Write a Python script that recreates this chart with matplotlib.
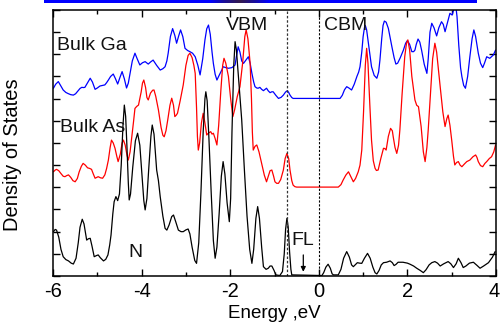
import numpy as np
import matplotlib
matplotlib.use("Agg")
import matplotlib.pyplot as plt
from matplotlib.transforms import ScaledTranslation

plt.rcParams['font.family'] = ['Liberation Sans', 'DejaVu Sans']

# ---- data (energy in eV, DOS in arbitrary units, curves already offset) ----
n_energy = [-5.99, -5.95, -5.92, -5.87, -5.82, -5.77, -5.71, -5.65, -5.59, -5.54,
            -5.48, -5.43, -5.39, -5.34, -5.30, -5.26, -5.24, -5.20, -5.16, -5.12,
            -5.07, -5.02, -4.98, -4.93, -4.86, -4.81, -4.76, -4.72, -4.69, -4.65,
            -4.62, -4.58, -4.54, -4.50, -4.46, -4.42, -4.39, -4.36, -4.33, -4.30,
            -4.28, -4.25, -4.20, -4.14, -4.09, -4.04, -3.99, -3.95, -3.92, -3.88,
            -3.84, -3.79, -3.76, -3.72, -3.68, -3.66, -3.62, -3.58, -3.52, -3.47,
            -3.43, -3.38, -3.32, -3.28, -3.23, -3.17, -3.11, -3.06, -3.00, -2.95,
            -2.91, -2.86, -2.80, -2.76, -2.71, -2.66, -2.61, -2.57, -2.55, -2.52,
            -2.48, -2.43, -2.38, -2.34, -2.30, -2.25, -2.20, -2.16, -2.12, -2.07,
            -2.02, -1.99, -1.96, -1.92, -1.89, -1.86, -1.80, -1.74, -1.68, -1.62,
            -1.56, -1.51, -1.47, -1.42, -1.38, -1.34, -1.29, -1.25, -1.19, -1.14,
            -1.10, -1.06, -1.01, -0.97, -0.88, -0.82, -0.78, -0.75, -0.72, -0.69,
            -0.66, -0.63, -0.61, 0.07, 0.11, 0.16, 0.21, 0.26, 0.30, 0.33,
            0.44, 0.50, 0.56, 0.63, 0.69, 0.74, 0.78, 0.82, 0.87, 0.92,
            0.97, 1.03, 1.10, 1.16, 1.22, 1.27, 1.31, 1.36, 1.41, 1.46,
            1.53, 1.61, 1.66, 1.70, 1.74, 1.79, 1.90, 2.00, 2.06, 2.14,
            2.21, 2.29, 2.36, 2.42, 2.49, 2.55, 2.62, 2.68, 2.74, 2.82,
            2.92, 2.98, 3.04, 3.10, 3.15, 3.21, 3.26, 3.32, 3.40, 3.49,
            3.57, 3.64, 3.72, 3.83, 3.92, 3.98]
n_dos = [2.00, 2.10, 2.07, 1.75, 1.20, 0.87, 0.74, 0.68, 0.58, 0.54,
         0.80, 1.50, 2.20, 2.56, 2.35, 1.85, 1.62, 1.68, 1.70, 1.35,
         0.87, 0.92, 0.95, 0.82, 0.68, 0.75, 0.95, 1.40, 1.85, 2.80,
         3.35, 3.58, 3.40, 3.70, 5.00, 6.80, 7.71, 7.20, 5.80, 4.20,
         3.43, 3.70, 4.90, 6.10, 6.44, 5.90, 4.50, 3.40, 2.98, 3.50,
         4.80, 6.30, 6.81, 6.40, 5.30, 4.78, 4.30, 3.58, 2.70, 2.15,
         2.07, 2.30, 2.68, 2.75, 2.45, 2.07, 2.00, 2.00, 2.08, 2.12,
         1.90, 1.30, 0.70, 0.57, 1.50, 3.80, 6.50, 8.00, 8.31, 7.90,
         6.20, 3.80, 1.60, 0.80, 1.30, 2.80, 4.50, 5.16, 4.60, 3.30,
         2.45, 3.50, 6.50, 9.50, 10.57, 10.20, 8.60, 7.04, 4.80, 2.70,
         1.20, 0.57, 1.20, 2.60, 3.13, 2.60, 1.30, 0.42, 0.30, 0.35,
         0.45, 0.45, 0.25, 0.05, 0.02, 0.20, 1.00, 2.10, 2.60, 2.20,
         1.10, 0.30, 0.05, 0.02, 0.15, 0.40, 0.53, 0.35, 0.10, 0.05,
         0.05, 0.30, 0.80, 1.10, 0.85, 0.50, 0.42, 0.50, 0.60, 0.58,
         0.57, 0.80, 1.02, 0.80, 0.40, 0.15, 0.09, 0.25, 0.50, 0.60,
         0.62, 0.68, 0.60, 0.47, 0.52, 0.62, 0.62, 0.58, 0.53, 0.45,
         0.35, 0.25, 0.15, 0.28, 0.50, 0.60, 0.65, 0.58, 0.45, 0.55,
         0.65, 0.55, 0.38, 0.55, 0.80, 0.60, 0.38, 0.45, 0.58, 0.62,
         0.48, 0.35, 0.45, 0.60, 0.85, 1.10]

as_energy = [-5.99, -5.95, -5.92, -5.87, -5.82, -5.77, -5.73, -5.69, -5.65, -5.60,
             -5.55, -5.50, -5.45, -5.41, -5.36, -5.32, -5.27, -5.22, -5.17, -5.13,
             -5.09, -5.05, -5.01, -4.98, -4.93, -4.88, -4.83, -4.79, -4.75, -4.71,
             -4.68, -4.64, -4.60, -4.56, -4.53, -4.48, -4.44, -4.41, -4.37, -4.33,
             -4.30, -4.26, -4.22, -4.18, -4.15, -4.11, -4.07, -4.01, -3.98, -3.95,
             -3.91, -3.88, -3.85, -3.80, -3.75, -3.72, -3.68, -3.62, -3.56, -3.52,
             -3.49, -3.45, -3.41, -3.36, -3.32, -3.28, -3.25, -3.22, -3.19, -3.13,
             -3.06, -3.00, -2.95, -2.91, -2.86, -2.82, -2.79, -2.76, -2.74, -2.72,
             -2.69, -2.65, -2.61, -2.57, -2.53, -2.49, -2.44, -2.41, -2.38, -2.34,
             -2.30, -2.26, -2.21, -2.17, -2.14, -2.10, -2.04, -1.99, -1.94, -1.90,
             -1.84, -1.78, -1.72, -1.67, -1.64, -1.60, -1.55, -1.52, -1.50, -1.48,
             -1.44, -1.40, -1.35, -1.29, -1.23, -1.18, -1.14, -1.10, -1.06, -1.02,
             -0.99, -0.95, -0.91, -0.86, -0.80, -0.76, -0.72, -0.68, -0.65, -0.61,
             -0.58, -0.54, -0.50, 0.44, 0.50, 0.55, 0.61, 0.67, 0.72, 0.78,
             0.83, 0.89, 0.93, 0.97, 1.01, 1.05, 1.08, 1.11, 1.15, 1.19,
             1.23, 1.27, 1.30, 1.34, 1.40, 1.46, 1.49, 1.52, 1.57, 1.62,
             1.66, 1.68, 1.72, 1.76, 1.80, 1.83, 1.88, 1.94, 1.98, 2.01,
             2.05, 2.10, 2.17, 2.21, 2.25, 2.31, 2.36, 2.40, 2.44, 2.47,
             2.52, 2.57, 2.62, 2.66, 2.70, 2.74, 2.80, 2.85, 2.89, 2.92,
             2.96, 3.00, 3.04, 3.07, 3.11, 3.15, 3.19, 3.23, 3.29, 3.34,
             3.41, 3.48, 3.54, 3.57, 3.60, 3.65, 3.70, 3.75, 3.79, 3.85,
             3.90, 3.95, 3.99]
as_dos = [4.70, 4.78, 4.81, 4.75, 4.62, 4.50, 4.48, 4.53, 4.56, 4.45,
          4.30, 4.25, 4.40, 4.69, 4.95, 5.08, 5.00, 4.88, 4.85, 4.81,
          4.60, 4.41, 4.45, 4.48, 4.43, 4.41, 4.56, 4.85, 5.23, 5.80,
          6.13, 6.00, 5.76, 5.40, 5.16, 5.50, 6.00, 6.13, 5.90, 5.45,
          5.23, 5.60, 6.28, 7.00, 7.56, 7.65, 7.71, 8.30, 8.70, 8.84,
          8.50, 8.05, 7.94, 8.25, 8.38, 8.39, 8.10, 7.49, 6.70, 6.35,
          6.28, 6.55, 7.04, 7.70, 8.02, 7.70, 7.19, 7.25, 7.34, 7.90,
          8.62, 9.50, 9.95, 10.05, 9.85, 9.50, 9.14, 7.60, 6.30, 5.68,
          6.00, 6.90, 7.34, 6.90, 6.36, 6.45, 6.51, 6.40, 6.44, 6.20,
          5.91, 6.80, 8.40, 9.50, 9.82, 9.60, 9.00, 8.00, 7.19, 7.50,
          8.10, 8.54, 9.60, 10.80, 11.10, 10.70, 9.59, 8.00, 6.50, 5.68,
          5.85, 5.91, 5.60, 5.08, 4.55, 4.25, 4.50, 4.75, 4.78, 4.50,
          4.25, 4.18, 4.18, 4.35, 4.78, 5.30, 5.53, 5.30, 4.78, 4.30,
          4.10, 4.03, 4.01, 4.01, 4.12, 4.33, 4.55, 4.70, 4.50, 4.25,
          4.40, 4.70, 5.00, 5.68, 7.40, 9.50, 10.27, 9.60, 7.80, 6.13,
          5.20, 4.86, 4.76, 4.78, 5.30, 5.76, 5.75, 5.68, 6.30, 6.66,
          6.55, 6.28, 5.80, 5.53, 5.90, 6.59, 8.20, 9.90, 10.50, 10.65,
          10.20, 9.00, 7.94, 7.70, 7.64, 6.74, 5.60, 5.16, 5.80, 6.59,
          8.20, 9.80, 10.50, 10.10, 9.30, 8.54, 7.40, 6.74, 7.10, 7.26,
          6.80, 6.13, 5.40, 5.01, 5.12, 5.16, 5.00, 4.93, 5.06, 5.16,
          5.23, 5.38, 5.46, 5.35, 5.16, 4.98, 4.93, 5.08, 5.16, 5.30,
          5.38, 5.60, 5.91]

ga_energy = [-5.99, -5.94, -5.88, -5.83, -5.77, -5.71, -5.66, -5.60, -5.54, -5.49,
             -5.44, -5.39, -5.35, -5.31, -5.28, -5.22, -5.16, -5.11, -5.05, -5.00,
             -4.94, -4.88, -4.83, -4.79, -4.75, -4.70, -4.64, -4.59, -4.54, -4.49,
             -4.44, -4.39, -4.34, -4.30, -4.26, -4.21, -4.15, -4.10, -4.04, -3.98,
             -3.92, -3.85, -3.80, -3.74, -3.66, -3.58, -3.52, -3.47, -3.43, -3.40,
             -3.35, -3.30, -3.25, -3.21, -3.16, -3.12, -3.07, -3.02, -2.96, -2.91,
             -2.85, -2.79, -2.73, -2.68, -2.62, -2.57, -2.53, -2.49, -2.45, -2.41,
             -2.38, -2.34, -2.30, -2.25, -2.19, -2.16, -2.10, -2.04, -1.96, -1.89,
             -1.86, -1.82, -1.78, -1.74, -1.70, -1.64, -1.59, -1.55, -1.51, -1.47,
             -1.44, -1.40, -1.37, -1.33, -1.29, -1.25, -1.21, -1.18, -1.14, -1.10,
             -1.06, -1.03, -0.97, -0.91, -0.85, -0.80, -0.75, -0.71, -0.68, -0.65,
             -0.61, -0.58, 0.48, 0.53, 0.58, 0.63, 0.68, 0.74, 0.80, 0.86,
             0.90, 0.93, 0.97, 1.00, 1.03, 1.05, 1.08, 1.12, 1.16, 1.19,
             1.25, 1.31, 1.35, 1.38, 1.42, 1.45, 1.48, 1.52, 1.57, 1.61,
             1.65, 1.70, 1.74, 1.78, 1.84, 1.91, 1.96, 2.00, 2.05, 2.10,
             2.14, 2.17, 2.20, 2.24, 2.28, 2.32, 2.38, 2.44, 2.47, 2.51,
             2.55, 2.60, 2.66, 2.71, 2.77, 2.81, 2.85, 2.90, 2.96, 3.01,
             3.05, 3.09, 3.12, 3.16, 3.20, 3.23, 3.27, 3.31, 3.36, 3.41,
             3.46, 3.50, 3.54, 3.60, 3.65, 3.70, 3.74, 3.79, 3.86, 3.94,
             3.99]
ga_dos = [8.47, 8.65, 8.77, 8.60, 8.39, 8.28, 8.23, 8.18, 8.16, 8.22,
          8.34, 8.46, 8.51, 8.50, 8.51, 8.72, 8.92, 8.75, 8.42, 8.48,
          8.57, 8.60, 8.62, 8.72, 8.84, 9.00, 9.11, 8.90, 8.66, 8.95,
          9.22, 8.90, 8.48, 8.70, 9.14, 9.70, 10.05, 9.80, 9.52, 9.62,
          9.67, 9.56, 9.65, 9.74, 9.50, 9.29, 9.35, 9.44, 9.70, 10.05,
          10.80, 11.16, 10.85, 10.50, 10.85, 11.10, 10.80, 10.27, 10.17, 10.12,
          10.05, 9.89, 9.50, 9.07, 9.80, 10.65, 11.15, 11.32, 10.90, 10.10,
          9.59, 9.10, 8.84, 9.05, 9.29, 9.44, 9.40, 9.37, 9.40, 9.52,
          9.90, 10.34, 10.10, 9.70, 9.59, 9.75, 9.89, 9.60, 9.14, 8.75,
          8.54, 8.48, 8.47, 8.51, 8.42, 8.36, 8.42, 8.47, 8.35, 8.27,
          8.31, 8.31, 8.15, 8.01, 8.06, 8.16, 8.30, 8.36, 8.28, 8.16,
          8.05, 8.01, 8.01, 8.15, 8.40, 8.54, 8.48, 8.39, 8.65, 9.00,
          9.20, 9.44, 10.10, 10.79, 11.20, 11.30, 11.10, 10.50, 9.90, 9.44,
          9.05, 8.92, 9.20, 9.74, 10.70, 11.30, 11.50, 11.45, 11.17, 10.75,
          10.34, 9.85, 9.56, 9.60, 9.85, 10.19, 10.50, 10.62, 10.45, 10.12,
          10.12, 10.19, 10.45, 10.69, 10.55, 10.19, 9.55, 9.14, 9.80, 11.00,
          11.40, 11.20, 10.83, 11.20, 11.47, 11.35, 11.02, 11.40, 11.85, 11.77,
          12.05, 12.22, 11.70, 10.40, 9.40, 8.99, 8.60, 8.47, 9.00, 9.89,
          10.70, 11.10, 10.80, 10.05, 9.60, 9.40, 9.60, 9.89, 9.82, 9.97,
          10.19]

x_ticks = [-6, -4, -2, 0, 2, 4]
x_tick_labels = ['-6', '-4', '-2', '0', '2', '4']
vbm_energy = -0.71
cbm_energy = 0.0
fermi_energy = -0.35

# ---- figure ----
fig = plt.figure(figsize=(5.0, 3.25), dpi=100)
ax = fig.add_axes([0.106, 0.1508, 0.886, 0.8185])

lkw = dict(lw=0.9, solid_joinstyle='round', solid_capstyle='round')
ax.plot(ga_energy, ga_dos, color='#0000ff', **lkw)
ax.plot(as_energy, as_dos, color='#ff0000', **lkw)
ax.plot(n_energy, n_dos, color='black', **lkw)

ax.axvline(vbm_energy, color='#333333', lw=0.9, ls=(0, (2, 1.5)))
ax.axvline(cbm_energy, color='black', lw=0.8, ls=(0, (2, 1.5)))

ax.set_xlim(-6, 4)
ax.set_ylim(0, 12)
ax.set_xticks(x_ticks)
ax.set_xticklabels(x_tick_labels)
ax.set_xticks(np.arange(-5, 4, 2), minor=True)
ax.set_yticks(np.arange(0, 13, 1))
ax.set_yticklabels([])
ax.tick_params(axis='both', which='major', direction='in', top=True, right=True,
               length=5, width=1, labelsize=14.5, pad=4)
ax.tick_params(axis='x', which='minor', direction='in', top=True, length=3, width=1)
for s in ax.spines.values():
    s.set_linewidth(1.1)

# keep the last tick label inside the canvas
last = ax.get_xticklabels()[-1]
last.set_transform(last.get_transform() + ScaledTranslation(-2/100, 0, fig.dpi_scale_trans))

ax.set_xlabel('Energy ,eV', fontsize=13.5, labelpad=3)
ax.set_ylabel('Density of States', fontsize=14.5, labelpad=7)
ax.yaxis.set_label_coords(-0.07, 0.455)

tk = dict(fontsize=14, color='#111111')
ax.text(-5.91, 10.42, 'Bulk Ga', ha='left', va='center', **tk)
ax.text(-5.84, 6.72, 'Bulk As', ha='left', va='center', **tk)
ax.text(-1.61, 11.32, 'VBM', ha='center', va='center', **tk)
ax.text(0.61, 11.32, 'CBM', ha='center', va='center', **tk)
ax.text(-4.13, 1.04, 'N', ha='center', va='center', **tk)
ax.text(-0.37, 1.62, 'FL', ha='center', va='center', **tk)
ax.annotate('', xy=(fermi_energy, 0.19), xytext=(fermi_energy, 0.95),
            arrowprops=dict(arrowstyle='-|>', color='black', lw=0.9,
                            mutation_scale=7, shrinkA=0, shrinkB=0))

# decorative top bar
bar = fig.add_axes([44/500, 1 - 3/325, (477-44)/500, 3/325])
xs = np.linspace(0, 1, 433)
grad = np.stack([np.interp(xs, [0, 166/433, 180/433, 196/433, 210/433, 225/433, 1],
                           [c, c, c2, c3, c2, c, c])
                 for c, c2, c3 in [(0, 0.1, 0.2), (0, 0.05, 0.1), (1, 0.6, 0.3)]], axis=-1)
bar.imshow(grad[None, :, :], aspect='auto', extent=(0, 1, 0, 1))
bar.set_axis_off()

fig.savefig('out.png', dpi=100)
